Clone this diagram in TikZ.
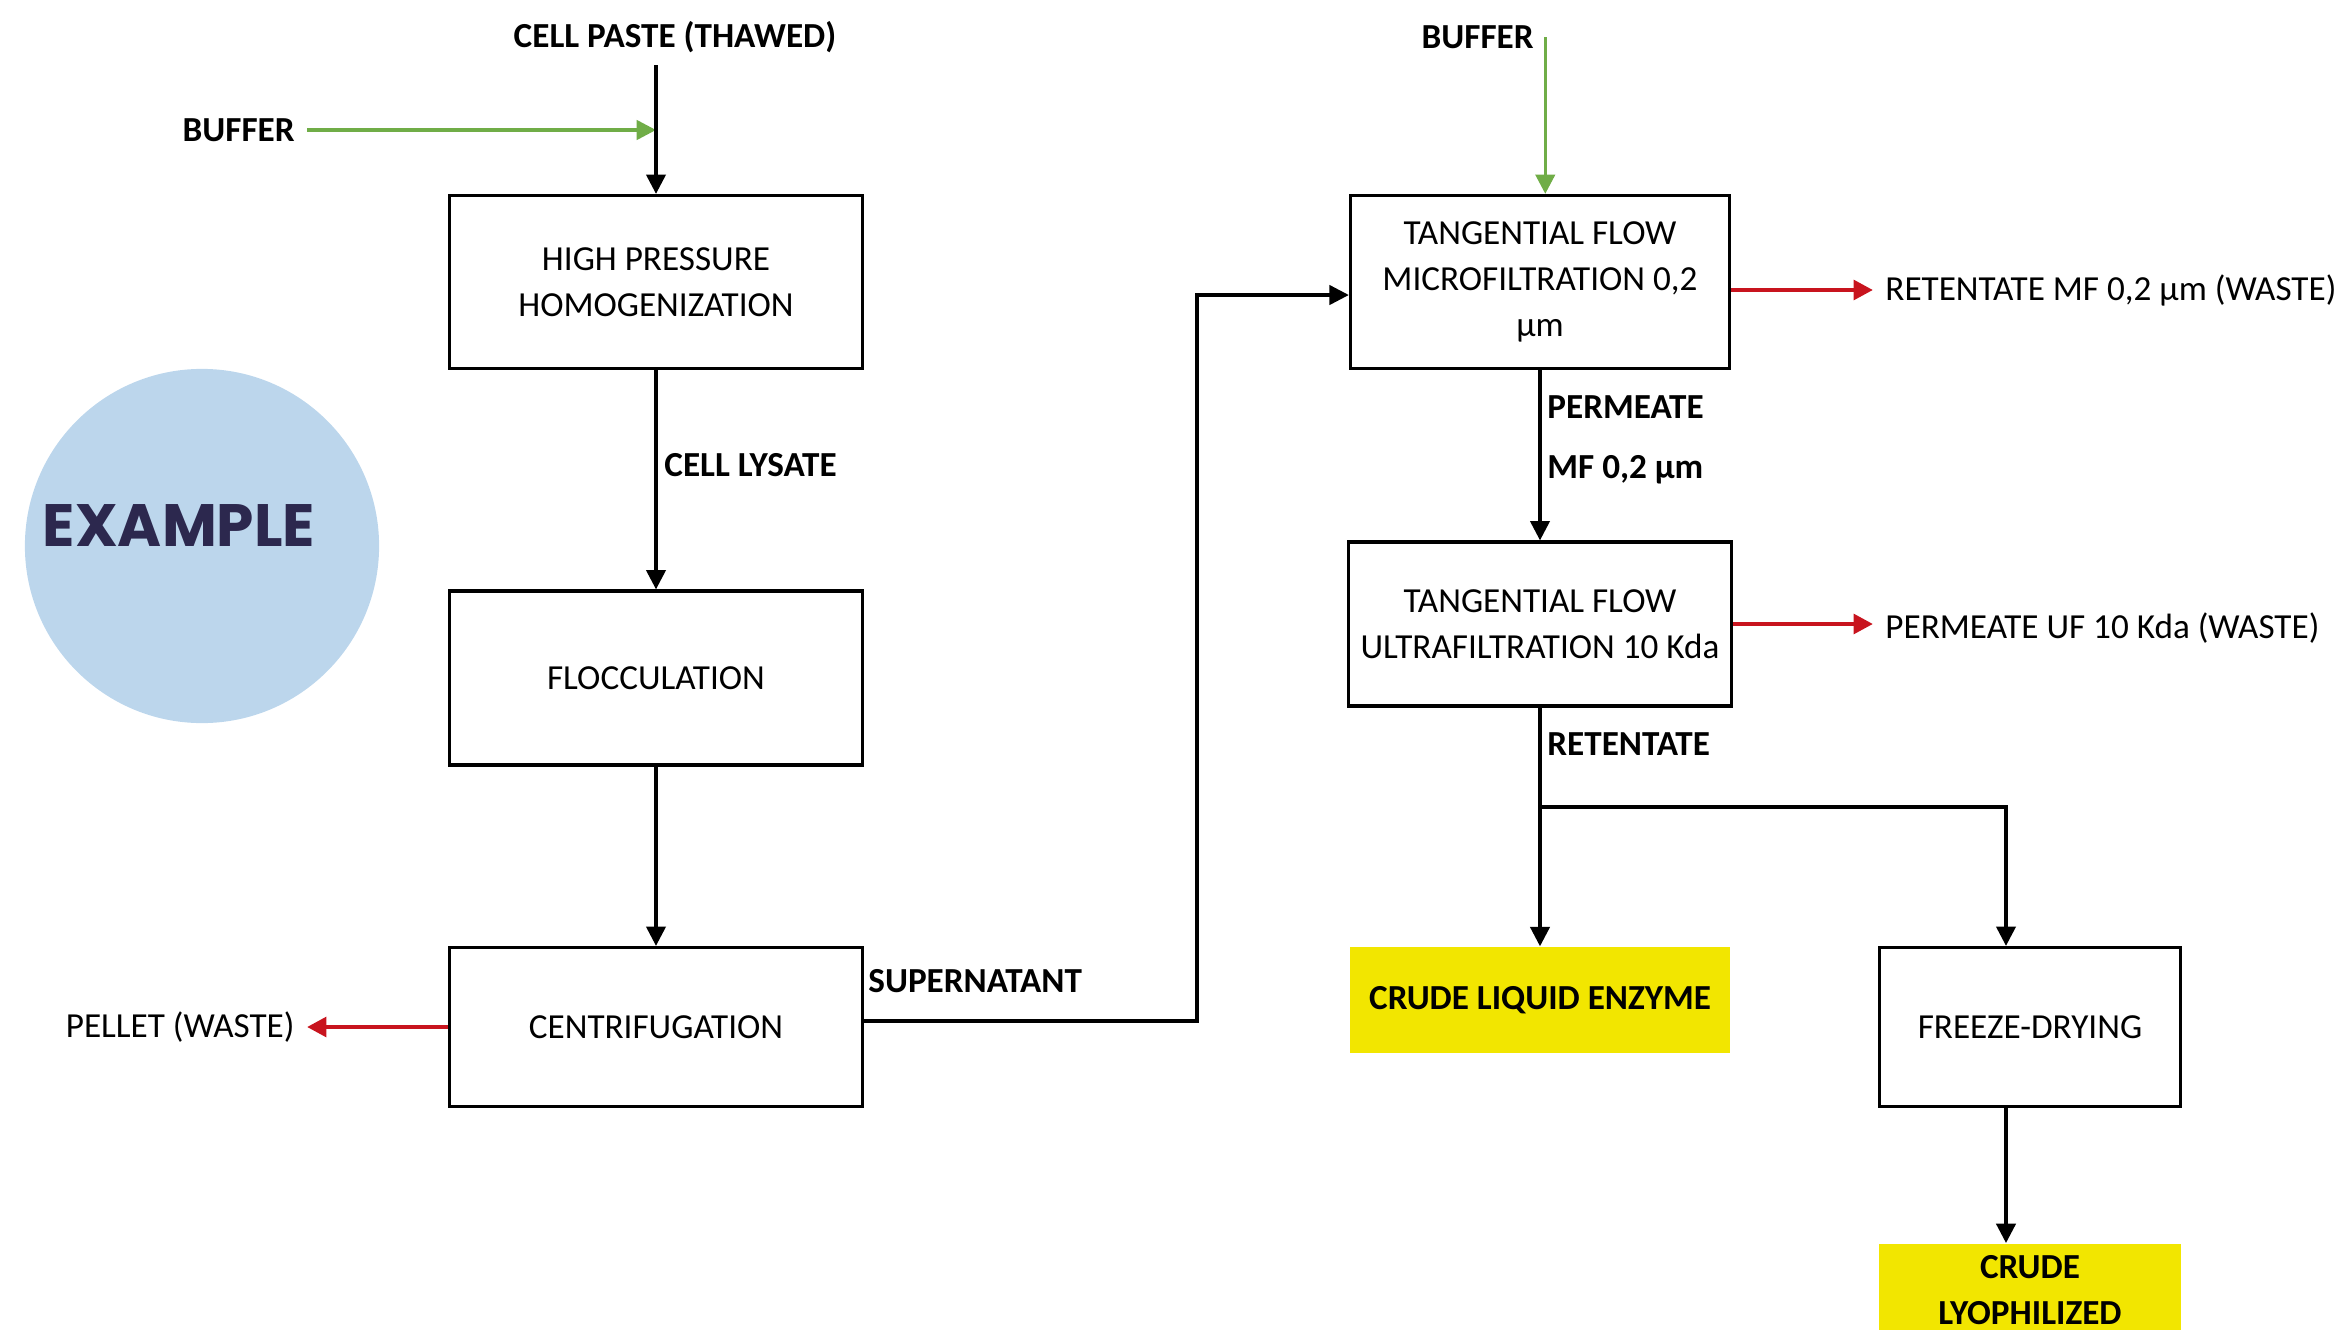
\documentclass[tikz,border=0pt]{standalone}
\usepackage{fontspec}
\setmainfont{Carlito}
\newfontfamily\badgefont{Poppins}
\usetikzlibrary{arrows.meta}
\definecolor{feedgreen}{RGB}{112,173,71}
\definecolor{wastered}{RGB}{200,20,30}
\definecolor{productyellow}{RGB}{242,230,0}
\definecolor{badgeblue}{RGB}{188,214,236}
\definecolor{badgenavy}{RGB}{44,40,78}

\begin{document}
\begin{tikzpicture}
  [x=0.01cm,y=-0.01cm,
   every node/.style={font=\fontsize{10}{13}\selectfont},
   unit/.style={draw,line width=0.9pt,align=center,minimum width=4.12cm,minimum height=1.73cm},
   product/.style={fill=productyellow,align=center,font=\fontsize{10}{13}\selectfont\bfseries},
   tag/.style={font=\fontsize{10}{13}\selectfont\bfseries},
   flow/.style={line width=0.9pt,-{Triangle[length=5.5pt,width=5.5pt]}},
   feed/.style={feedgreen,line width=1pt,-{Triangle[length=5.5pt,width=5.5pt]}},
   waste/.style={wastered,line width=1.3pt,-{Triangle[length=5.5pt,width=5.5pt]}}]
  \useasboundingbox (0,0) rectangle (2335,1330);
  \clip (0,0) rectangle (2335,1330);

  \node[circle,fill=badgeblue,minimum size=3.54cm] (badge) at (202,546) {};
  \node[font=\badgefont\fontsize{17}{17}\selectfont\bfseries,text=badgenavy] (stamp) at (179,526) {EXAMPLE};

  % upstream
  \node[tag] (paste) at (675,37) {CELL PASTE (THAWED)};
  \node[tag,anchor=east] (bufa) at (307,130) {BUFFER};
  \node[unit] (hph) at (656,282) {HIGH PRESSURE\\HOMOGENIZATION};
  \node[tag,anchor=west] (lysate) at (652,465) {CELL LYSATE};
  \node[unit,minimum height=1.74cm] (flocc) at (656,678) {FLOCCULATION};
  \node[unit,minimum height=1.59cm] (centrif) at (656,1027) {CENTRIFUGATION};
  \node[anchor=east] (pellet) at (307,1027) {PELLET (WASTE)};
  \node[tag,anchor=west] (super) at (856,981) {SUPERNATANT};
  \coordinate (mix) at (656,130);
  \coordinate (bend) at (1197,600);

  % filtration
  \node[tag,anchor=east] (bufb) at (1546,37) {BUFFER};
  \node[unit,minimum width=3.79cm] (tfmf) at (1540,282) {TANGENTIAL FLOW\\MICROFILTRATION 0,2\\µm};
  \node[anchor=west] (retmf) at (1873,290) {RETENTATE MF 0,2 µm (WASTE)};
  \node[tag,anchor=west,align=left] (perm) at (1535,440) {PERMEATE\\[4pt]MF 0,2 µm};
  \node[unit,minimum width=3.79cm,minimum height=1.64cm] (tfuf) at (1540,624) {TANGENTIAL FLOW\\ULTRAFILTRATION 10 Kda};
  \node[anchor=west] (permuf) at (1873,628) {PERMEATE UF 10 Kda (WASTE)};
  \node[tag,anchor=west] (ret) at (1535,744) {RETENTATE};
  \node[product,minimum width=3.79cm,minimum height=1.06cm] (cle) at (1540,1000) {CRUDE LIQUID ENZYME};
  \node[unit,minimum width=3.01cm,minimum height=1.59cm] (fd) at (2030,1027) {FREEZE-DRYING};
  \node[product,minimum width=3.01cm,anchor=north,text depth=2cm] (lyo) at (2030,1243) {CRUDE\\LYOPHILIZED};
  \coordinate (split) at (1540,807);
  \coordinate (turn) at (2006,807);

  \draw[feed] (bufa.east) -- (mix);
  \draw[flow] (hph.north |- paste.south) -- (hph.north);
  \foreach \from/\to in {hph/flocc,flocc/centrif,tfmf/tfuf,tfuf/cle}
    \draw[flow] (\from) -- (\to);
  \draw[waste] (centrif.west) -- (pellet.east);
  \draw[flow] ([yshift=1.7pt]centrif.east) -| (bend) |- ([yshift=-3.7pt]tfmf.west);
  \draw[feed] ([xshift=1.5pt]tfmf.north |- bufb.east) -- ([xshift=1.5pt]tfmf.north);
  \draw[waste] (tfmf.east |- retmf.west) -- (retmf.west);
  \draw[waste] (tfuf.east) -- (tfuf.east -| permuf.west);
  \draw[flow] (split) -- (turn) -- (turn |- fd.north);
  \draw[flow] (fd.south -| turn) -- (lyo.north -| turn);

\end{tikzpicture}
\end{document}
